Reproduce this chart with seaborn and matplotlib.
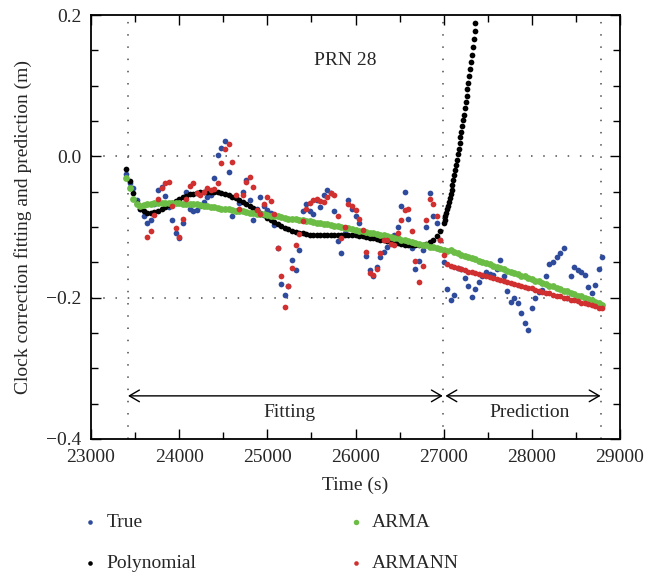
import numpy as np
import matplotlib
matplotlib.use("Agg")
import matplotlib.pyplot as plt
import seaborn as sns
from matplotlib.ticker import MultipleLocator

# ---- data (clock correction, m) ----
# True values, sampled every 40 s from 23400 s to 28800 s
true_vals = [
    -0.025, -0.038, -0.045, -0.062, -0.075, -0.084, -0.095, -0.090, -0.068, -0.048,  # 23400
    -0.044, -0.056, -0.072, -0.090, -0.108, -0.115, -0.094, -0.050, -0.074, -0.078,  # 23800
    -0.076, -0.070, -0.064, -0.058, -0.055, -0.030, 0.002, 0.012, 0.021, -0.022,     # 24200
    -0.085, -0.078, -0.066, -0.050, -0.034, -0.062, -0.090, -0.075, -0.057, -0.070,  # 24600
    -0.076, -0.080, -0.097, -0.130, -0.180, -0.196, -0.183, -0.147, -0.161, -0.133,  # 25000
    -0.078, -0.068, -0.078, -0.081, -0.062, -0.071, -0.055, -0.047, -0.052, -0.078,  # 25400
    -0.120, -0.137, -0.108, -0.062, -0.074, -0.085, -0.095, -0.109, -0.141, -0.161,  # 25800
    -0.170, -0.156, -0.142, -0.135, -0.128, -0.118, -0.112, -0.100, -0.070, -0.050,  # 26200
    -0.088, -0.130, -0.160, -0.148, -0.133, -0.100, -0.052, -0.085, -0.095, -0.118,  # 26600
    -0.150, -0.188, -0.203, -0.196, -0.158, -0.160, -0.172, -0.184, -0.199, -0.188,  # 27000
    -0.178, -0.170, -0.163, -0.166, -0.168, -0.160, -0.147, -0.170, -0.190, -0.206,  # 27400
    -0.200, -0.207, -0.222, -0.236, -0.246, -0.215, -0.200, -0.192, -0.189, -0.170,  # 27800
    -0.153, -0.150, -0.142, -0.137, -0.130, -0.200, -0.170, -0.156, -0.161, -0.164,  # 28200
    -0.168, -0.185, -0.194, -0.182, -0.160, -0.142,                                  # 28600
]

# polynomial fit, every 40 s from 23400 s to 27000 s
poly_fit_vals = [
    -0.018, -0.035, -0.052, -0.066, -0.074, -0.078, -0.080, -0.080, -0.079, -0.077,  # 23400
    -0.075, -0.072, -0.069, -0.066, -0.063, -0.060, -0.058, -0.056, -0.054, -0.053,  # 23800
    -0.052, -0.051, -0.050, -0.050, -0.050, -0.050, -0.051, -0.052, -0.053, -0.055,  # 24200
    -0.057, -0.059, -0.062, -0.064, -0.067, -0.070, -0.073, -0.076, -0.080, -0.083,  # 24600
    -0.087, -0.090, -0.093, -0.096, -0.099, -0.101, -0.103, -0.105, -0.107, -0.108,  # 25000
    -0.109, -0.110, -0.111, -0.111, -0.112, -0.112, -0.112, -0.112, -0.112, -0.112,  # 25400
    -0.112, -0.112, -0.112, -0.112, -0.112, -0.112, -0.113, -0.113, -0.114, -0.115,  # 25800
    -0.116, -0.117, -0.118, -0.119, -0.120, -0.121, -0.122, -0.123, -0.124, -0.125,  # 26200
    -0.126, -0.126, -0.126, -0.126, -0.125, -0.124, -0.121, -0.118, -0.113, -0.106,  # 26600
    -0.095,                                                                          # 27000
]

# polynomial prediction, every 10 s from 27010 s (leaves the axes above 0.2)
poly_pred_vals = [
    -0.090, -0.085, -0.080, -0.075, -0.070, -0.065, -0.059, -0.053, -0.047, -0.041,
    -0.034, -0.027, -0.020, -0.012, -0.005, 0.003, 0.011, 0.019, 0.027, 0.035,
    0.043, 0.051, 0.059, 0.068, 0.077, 0.086, 0.095, 0.104, 0.113, 0.123,
    0.133, 0.144, 0.155, 0.166, 0.177, 0.188,
]

# ARMA, every 40 s from 23400 s to 28800 s
arma_vals = [
    -0.030, -0.045, -0.060, -0.067, -0.070, -0.069, -0.068, -0.067, -0.066, -0.066,  # 23400
    -0.066, -0.066, -0.066, -0.066, -0.066, -0.066, -0.067, -0.067, -0.067, -0.068,  # 23800
    -0.068, -0.069, -0.070, -0.070, -0.071, -0.072, -0.073, -0.074, -0.074, -0.075,  # 24200
    -0.076, -0.077, -0.077, -0.078, -0.079, -0.080, -0.080, -0.081, -0.082, -0.082,  # 24600
    -0.083, -0.084, -0.084, -0.085, -0.086, -0.087, -0.088, -0.088, -0.089, -0.090,  # 25000
    -0.090, -0.091, -0.092, -0.093, -0.094, -0.095, -0.096, -0.096, -0.097, -0.098,  # 25400
    -0.099, -0.100, -0.101, -0.102, -0.103, -0.104, -0.105, -0.106, -0.107, -0.108,  # 25800
    -0.109, -0.110, -0.111, -0.112, -0.113, -0.114, -0.115, -0.116, -0.118, -0.119,  # 26200
    -0.120, -0.121, -0.122, -0.124, -0.125, -0.126, -0.128, -0.129, -0.130, -0.131,  # 26600
    -0.133, -0.134, -0.133, -0.135, -0.137, -0.139, -0.141, -0.142, -0.144, -0.146,  # 27000
    -0.148, -0.149, -0.151, -0.153, -0.155, -0.156, -0.158, -0.160, -0.162, -0.163,  # 27400
    -0.165, -0.167, -0.169, -0.170, -0.172, -0.174, -0.176, -0.177, -0.179, -0.181,  # 27800
    -0.183, -0.184, -0.186, -0.188, -0.190, -0.191, -0.193, -0.195, -0.197, -0.198,  # 28200
    -0.200, -0.202, -0.204, -0.206, -0.208, -0.210,                                  # 28600
]

# ARMANN, every 40 s from 23640 s to 28800 s
armann_vals = [
    -0.114, -0.105, -0.083, -0.060, -0.045, -0.038, -0.037, -0.070, -0.102, -0.114,  # 23640
    -0.088, -0.060, -0.042, -0.038, -0.052, -0.055, -0.050, -0.045, -0.047, -0.046,  # 24040
    -0.038, -0.010, 0.010, 0.018, -0.008, -0.055, -0.074, -0.055, -0.036, -0.029,    # 24440
    -0.043, -0.076, -0.082, -0.068, -0.057, -0.063, -0.082, -0.130, -0.170, -0.213,  # 24840
    -0.184, -0.158, -0.125, -0.110, -0.092, -0.075, -0.066, -0.062, -0.060, -0.063,  # 25240
    -0.064, -0.057, -0.052, -0.055, -0.085, -0.115, -0.100, -0.068, -0.070, -0.076,  # 25640
    -0.088, -0.104, -0.135, -0.165, -0.168, -0.160, -0.137, -0.118, -0.118, -0.124,  # 26040
    -0.125, -0.108, -0.090, -0.076, -0.075, -0.106, -0.148, -0.178, -0.155, -0.090,  # 26440
    -0.060, -0.068, -0.085, -0.118, -0.140, -0.152, -0.155, -0.157, -0.158, -0.160,  # 26840
    -0.161, -0.163, -0.164, -0.165, -0.167, -0.168, -0.170, -0.171, -0.172, -0.174,  # 27240
    -0.175, -0.176, -0.178, -0.179, -0.181, -0.182, -0.183, -0.185, -0.186, -0.187,  # 27640
    -0.189, -0.190, -0.192, -0.193, -0.194, -0.196, -0.197, -0.198, -0.200, -0.201,  # 28040
    -0.203, -0.204, -0.205, -0.207, -0.208, -0.209, -0.211, -0.212, -0.214, -0.215,  # 28440
]

# sampling times (s)
t_true = 23400 + 40 * np.arange(len(true_vals))
t_poly = np.concatenate([23400 + 40 * np.arange(len(poly_fit_vals)),
                         27010 + 10 * np.arange(len(poly_pred_vals))])
poly_vals = poly_fit_vals + poly_pred_vals
t_arma = 23400 + 40 * np.arange(len(arma_vals))
t_armann = 23640 + 40 * np.arange(len(armann_vals))

# segment bounds for the fitting / prediction arrows
fit_start, fit_end, pred_end = 23420, 26990, 28780

sns.set_theme(style="white")
plt.rcParams["font.family"] = ["Liberation Serif", "DejaVu Serif"]

fig, ax = plt.subplots(figsize=(6.57, 5.73), dpi=100)
fig.subplots_adjust(left=0.1385, right=0.9437, top=0.9738, bottom=0.2339)

dot = (0, (1, 7))
for xv in [fit_start, fit_end, pred_end]:
    ax.axvline(xv, color="0.3", lw=1.1, ls=dot, zorder=0)
for yv in [0.0, -0.2]:
    ax.hlines(yv, 23000, pred_end, color="0.3", lw=1.1, ls=dot, zorder=0)

sns.scatterplot(x=t_true, y=true_vals, ax=ax, color="#2f4b9c", s=17, linewidth=0, label="True", zorder=2)
sns.scatterplot(x=t_poly, y=poly_vals, ax=ax, color="black", s=17, linewidth=0, label="Polynomial", zorder=3)
sns.scatterplot(x=t_arma, y=arma_vals, ax=ax, color="#6cbd45", s=24, linewidth=0, label="ARMA", zorder=4)
sns.scatterplot(x=t_armann, y=armann_vals, ax=ax, color="#d0302f", s=17, linewidth=0, label="ARMANN", zorder=5)

handles, labels = ax.get_legend_handles_labels()
if ax.get_legend() is not None:
    ax.get_legend().remove()

ax.set_xlim(23000, 29000)
ax.set_ylim(-0.4, 0.2)
ax.set_xticks(range(23000, 29001, 1000))
ax.xaxis.set_minor_locator(MultipleLocator(500))
ax.set_yticks([-0.4, -0.2, 0.0, 0.2])
ax.yaxis.set_minor_locator(MultipleLocator(0.05))
ax.tick_params(which="both", direction="in", top=True, right=True, bottom=True, left=True,
               color="black", width=1.0, labelsize=14, pad=7)
ax.tick_params(which="major", length=7)
ax.tick_params(which="minor", length=5)
for sp in ax.spines.values():
    sp.set_color("black")
    sp.set_linewidth(1.3)

ax.set_xlabel("Time (s)", fontsize=14, labelpad=8)
ax.set_ylabel("Clock correction fitting and prediction (m)", fontsize=14, labelpad=10)

arrow = dict(arrowstyle="<->,head_length=0.6,head_width=0.35", lw=1.0, color="black",
             shrinkA=0, shrinkB=0)
ax.annotate("", xy=(fit_start, -0.339), xytext=(fit_end, -0.339), arrowprops=arrow)
ax.annotate("", xy=(fit_end + 30, -0.339), xytext=(pred_end, -0.339), arrowprops=arrow)
ax.text(25250, -0.362, "Fitting", ha="center", va="center", fontsize=14)
ax.text(27980, -0.362, "Prediction", ha="center", va="center", fontsize=14)
ax.text(25880, 0.136, "PRN 28", ha="center", va="center", fontsize=14)

fig.legend(handles, labels, ncol=2, loc="upper left", bbox_to_anchor=(0.101, 0.135),
           frameon=False, fontsize=14, handlelength=0.6, handletextpad=0.55,
           columnspacing=7.9, labelspacing=1.2, borderpad=0.4, markerscale=0.8)

fig.savefig("out.png", dpi=100)
